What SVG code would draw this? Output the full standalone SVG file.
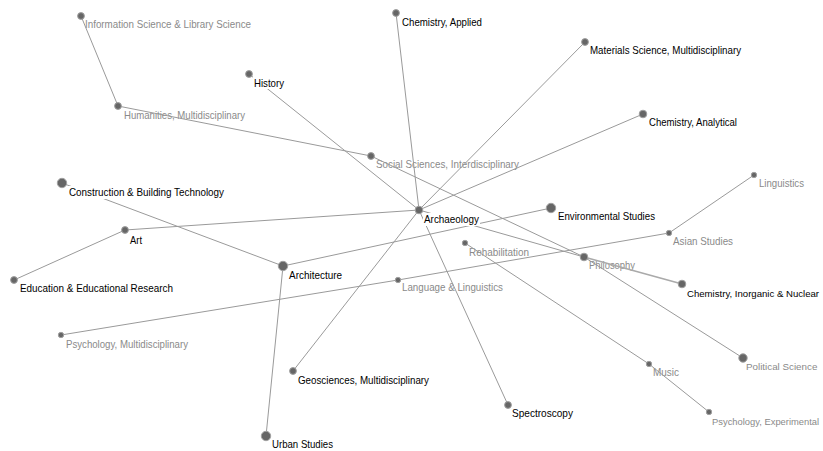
<svg xmlns="http://www.w3.org/2000/svg" width="823" height="451" viewBox="0 0 823 451">
<style>
.e{stroke:#9a9a9a;stroke-width:1;fill:none}
.ew{stroke:#aaaaaa;stroke-width:1.7;fill:none}
.n{fill:#666666;stroke:#a0a0a0;stroke-width:1}
text{font-family:"Liberation Sans",Arial,sans-serif;font-size:11.5px}
.g{fill:#8a8a8a}
.b{fill:#000000}
.bg{fill:#ffffff}
</style>
<rect width="823" height="451" fill="#ffffff"/>
<g id="gray-labels">
<text class="g" x="85" y="28" textLength="166" lengthAdjust="spacingAndGlyphs">Information Science &amp; Library Science</text>
<text class="g" x="124" y="119" textLength="121" lengthAdjust="spacingAndGlyphs">Humanities, Multidisciplinary</text>
<text class="g" x="376" y="168" textLength="143" lengthAdjust="spacingAndGlyphs">Social Sciences, Interdisciplinary</text>
<text class="g" x="759" y="187" textLength="45" lengthAdjust="spacingAndGlyphs">Linguistics</text>
<text class="g" x="673" y="245" textLength="60" lengthAdjust="spacingAndGlyphs">Asian Studies</text>
<text class="g" x="469" y="256" textLength="60" lengthAdjust="spacingAndGlyphs">Rehabilitation</text>
<text class="g" x="589" y="269" textLength="46" lengthAdjust="spacingAndGlyphs">Philosophy</text>
<text class="g" x="402" y="291" textLength="101" lengthAdjust="spacingAndGlyphs">Language &amp; Linguistics</text>
<text class="g" x="66" y="348" textLength="122" lengthAdjust="spacingAndGlyphs">Psychology, Multidisciplinary</text>
<text class="g" x="653" y="376" textLength="26" lengthAdjust="spacingAndGlyphs">Music</text>
<text class="g" x="746" y="369.5" style="font-size:9.8px">Political Science</text>
<text class="g" x="712" y="424.5" style="font-size:9.4px">Psychology, Experimental</text>
</g>
<g id="connectors">
<line class="e" x1="81" y1="16" x2="118" y2="106"/>
<line class="e" x1="118" y1="106" x2="371" y2="156"/>
<line class="e" x1="371" y1="156" x2="584" y2="257"/>
<line class="e" x1="249" y1="74" x2="419" y2="210"/>
<line class="e" x1="396" y1="13" x2="419" y2="210"/>
<line class="e" x1="585" y1="42" x2="419" y2="210"/>
<line class="e" x1="643" y1="114" x2="419" y2="210"/>
<line class="e" x1="125" y1="230" x2="419" y2="210"/>
<line class="e" x1="419" y1="210" x2="584" y2="257"/>
<line class="e" x1="419" y1="210" x2="508" y2="405"/>
<line class="e" x1="419" y1="210" x2="293" y2="371"/>
<line class="e" x1="14" y1="280" x2="125" y2="230"/>
<line class="e" x1="62" y1="183" x2="283" y2="266"/>
<line class="e" x1="283" y1="266" x2="551" y2="208"/>
<line class="e" x1="283" y1="266" x2="266" y2="436"/>
<line class="e" x1="61" y1="335" x2="398" y2="280"/>
<line class="e" x1="398" y1="280" x2="669" y2="233"/>
<line class="e" x1="669" y1="233" x2="754" y2="175"/>
<line class="ew" x1="584" y1="257" x2="682" y2="284"/>
<line class="e" x1="584" y1="257" x2="743" y2="358"/>
<line class="e" x1="465" y1="243" x2="649" y2="364"/>
<line class="e" x1="649" y1="364" x2="709" y2="412"/>
</g>
<g id="n-info"><circle class="n" cx="81" cy="16" r="3.4"/></g>
<g id="n-humanities"><circle class="n" cx="118" cy="106" r="3.4"/></g>
<g id="n-social"><circle class="n" cx="371" cy="156" r="3.4"/></g>
<g id="n-linguistics"><circle class="n" cx="754" cy="175" r="2.7"/></g>
<g id="n-asian"><circle class="n" cx="669" cy="233" r="2.7"/></g>
<g id="n-rehab"><circle class="n" cx="465" cy="243" r="2.7"/></g>
<g id="n-philosophy"><circle class="n" cx="584" cy="257" r="3.8"/></g>
<g id="n-language"><circle class="n" cx="398" cy="280" r="2.7"/></g>
<g id="n-psychmulti"><circle class="n" cx="61" cy="335" r="2.7"/></g>
<g id="n-music"><circle class="n" cx="649" cy="364" r="2.7"/></g>
<g id="n-political"><circle class="n" cx="743" cy="358" r="4.2"/></g>
<g id="n-psychexp"><circle class="n" cx="709" cy="412" r="2.7"/></g>
<g id="n-history">
<circle class="n" cx="249" cy="74" r="3.4"/>
<rect class="bg" x="253" y="77" width="33" height="12"/>
<text class="b" x="254" y="86.5" textLength="30" lengthAdjust="spacingAndGlyphs">History</text>
</g>
<g id="n-chemapplied">
<circle class="n" cx="396" cy="13" r="3.4"/>
<rect class="bg" x="401" y="16" width="82" height="13"/>
<text class="b" x="402" y="26" textLength="80" lengthAdjust="spacingAndGlyphs">Chemistry, Applied</text>
</g>
<g id="n-materials">
<circle class="n" cx="585" cy="42" r="3.4"/>
<rect class="bg" x="589" y="44" width="153" height="13"/>
<text class="b" x="590" y="54" textLength="151" lengthAdjust="spacingAndGlyphs">Materials Science, Multidisciplinary</text>
</g>
<g id="n-analytical">
<circle class="n" cx="643" cy="114" r="3.8"/>
<rect class="bg" x="648" y="116" width="90" height="13"/>
<text class="b" x="649" y="126" textLength="88" lengthAdjust="spacingAndGlyphs">Chemistry, Analytical</text>
</g>
<g id="n-construction">
<circle class="n" cx="62" cy="183" r="4.7"/>
<rect class="bg" x="68" y="186" width="157" height="13"/>
<text class="b" x="69" y="196" textLength="155" lengthAdjust="spacingAndGlyphs">Construction &amp; Building Technology</text>
</g>
<g id="n-art">
<circle class="n" cx="125" cy="230" r="3.4"/>
<rect class="bg" x="129" y="234" width="14" height="12"/>
<text class="b" x="130" y="243.5" textLength="12" lengthAdjust="spacingAndGlyphs">Art</text>
</g>
<g id="n-archaeology">
<circle class="n" cx="419" cy="210" r="3.8"/>
<rect class="bg" x="423" y="213" width="57" height="13"/>
<text class="b" x="424" y="222.5" textLength="55" lengthAdjust="spacingAndGlyphs">Archaeology</text>
</g>
<g id="n-environmental">
<circle class="n" cx="551" cy="208" r="4.7"/>
<rect class="bg" x="557" y="210" width="99" height="13"/>
<text class="b" x="558" y="220" textLength="97" lengthAdjust="spacingAndGlyphs">Environmental Studies</text>
</g>
<g id="n-chemInorganic">
<circle class="n" cx="682" cy="284" r="3.8"/>
<rect class="bg" x="686" y="287" width="134" height="13"/>
<text class="b" x="687" y="296.5" style="font-size:9.6px">Chemistry, Inorganic &amp; Nuclear</text>
</g>
<g id="n-education">
<circle class="n" cx="14" cy="280" r="3.4"/>
<rect class="bg" x="19" y="282" width="155" height="13"/>
<text class="b" x="20" y="291.5" textLength="153" lengthAdjust="spacingAndGlyphs">Education &amp; Educational Research</text>
</g>
<g id="n-architecture">
<circle class="n" cx="283" cy="266" r="4.7"/>
<rect class="bg" x="288" y="269" width="55" height="13"/>
<text class="b" x="289" y="278.5" textLength="53" lengthAdjust="spacingAndGlyphs">Architecture</text>
</g>
<g id="n-geosciences">
<circle class="n" cx="293" cy="371" r="3.4"/>
<rect class="bg" x="297" y="374" width="133" height="13"/>
<text class="b" x="298" y="384" textLength="131" lengthAdjust="spacingAndGlyphs">Geosciences, Multidisciplinary</text>
</g>
<g id="n-spectroscopy">
<circle class="n" cx="508" cy="405" r="3.4"/>
<rect class="bg" x="511" y="407" width="63" height="13"/>
<text class="b" x="512" y="417" textLength="61" lengthAdjust="spacingAndGlyphs">Spectroscopy</text>
</g>
<g id="n-urban">
<circle class="n" cx="266" cy="436" r="4.7"/>
<rect class="bg" x="271" y="438" width="63" height="13"/>
<text class="b" x="272" y="447.5" textLength="61" lengthAdjust="spacingAndGlyphs">Urban Studies</text>
</g>
</svg>
